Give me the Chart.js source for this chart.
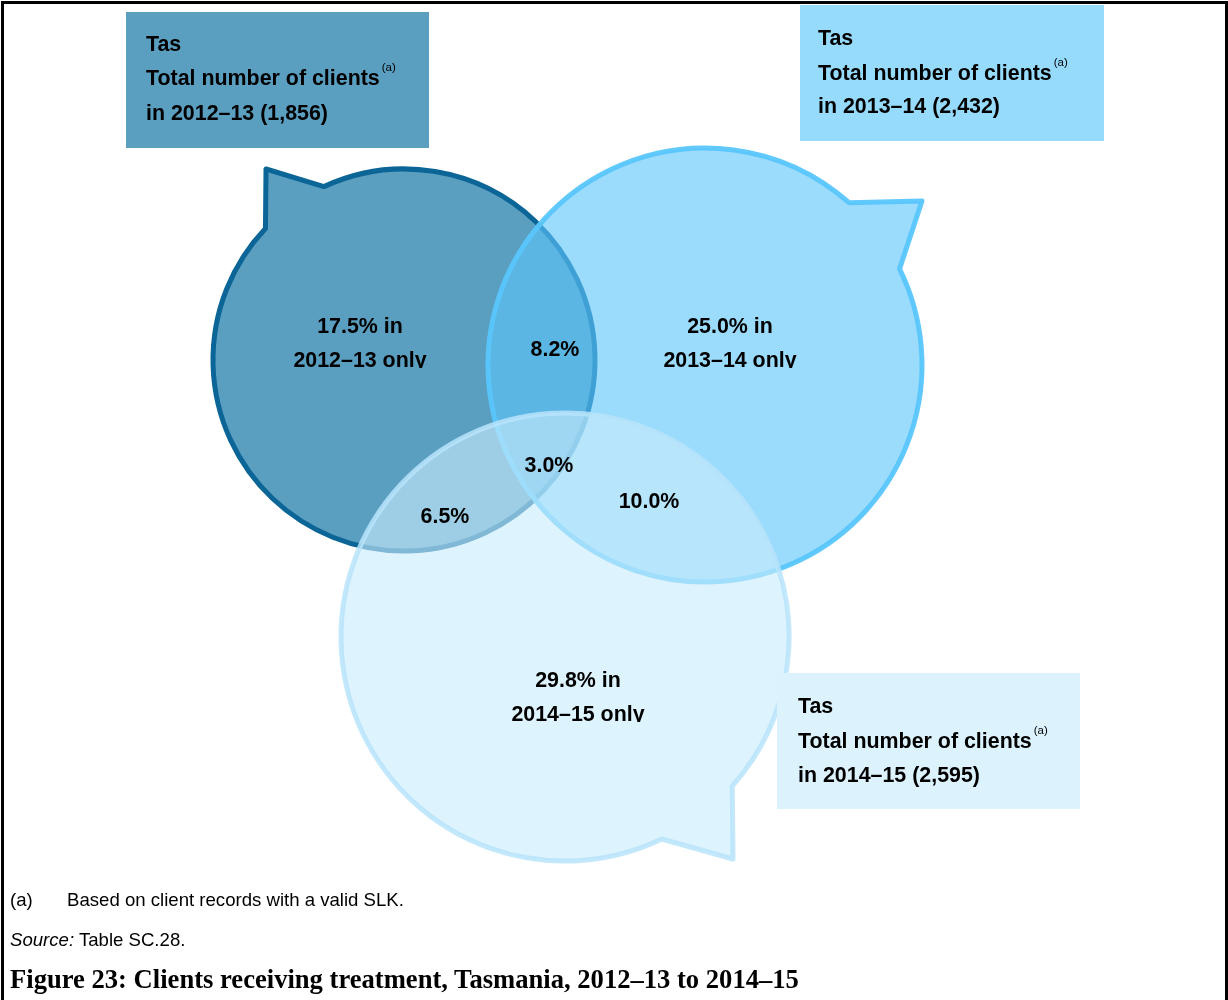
<!DOCTYPE html>
<html>
<head>
<meta charset="utf-8">
<title>Clients receiving treatment, Tasmania</title>
<script src="https://cdn.jsdelivr.net/npm/chart.js@4.4.1/dist/chart.umd.min.js"></script>
<style>
  body { margin: 0; background: #fff; }
  #wrap { position: relative; width: 1228px; height: 1000px; overflow: hidden; }
  #frame { position: absolute; left: 1px; top: 1px; width: 1227px; height: 1020px; border: 3px solid #000; box-sizing: border-box; }
  #venn { position: absolute; left: 0; top: 0; }
  .note { position: absolute; left: 10px; font: 18.6px/1 "Liberation Sans", Arial, sans-serif; color: #000; white-space: nowrap; }
  .note .tab { position: absolute; left: 57px; }
  .caption { position: absolute; left: 10px; top: 966px; font: bold 26.6px/1 "Liberation Serif", "Times New Roman", serif; color: #000; white-space: nowrap; }
</style>
</head>
<body>
<div id="wrap">
  <div id="frame"></div>
  <canvas id="venn" width="1228" height="1000"></canvas>
  <div class="note" style="top:891px">(a)<span class="tab">Based on client records with a valid SLK.</span></div>
  <div class="note" style="top:931px"><i>Source:</i> Table SC.28.</div>
  <div class="caption">Figure 23: Clients receiving treatment, Tasmania, 2012–13 to 2014–15</div>
</div>
<script>
  // Clients by year and the share seen in one, two or all three years
  const years = ["2012–13", "2013–14", "2014–15"];
  const totals = [1856, 2432, 2595];
  const onlyShares = [17.5, 25.0, 29.8];
  const overlapGroups = ["2012–13 + 2013–14", "2012–13 + 2014–15", "2013–14 + 2014–15", "all three years"];
  const overlapShares = [8.2, 6.5, 10.0, 3.0];

  // Layout, in chart units (x 0..1228, y 0..1000 from the top)
  const circleCentres = [[404, 360], [705, 365], [565, 637]];
  const circleRadii = [191, 217, 224];
  const tailAngles = [[-114.8, -136.5], [-48.4, -26.3], [41.7, 64.4]];
  const tailTips = [[266, 169], [922, 201], [733, 859]];
  const boxRects = [[126, 12, 303, 136], [800, 5, 304, 136], [777, 673, 303, 136]];
  const boxTextX = [146, 818, 798];
  const boxBaselines = [[51, 85, 120], [45, 80, 113], [713, 748, 782]];
  const onlyLabelPos = [[360, 333], [730, 333], [578, 687]];
  const overlapLabelPos = [[555, 356], [445, 523], [649, 508], [549, 472]];

  const circleFills = ["#5a9ec0", "rgba(93, 197, 250, 0.62)", "rgba(200, 235, 252, 0.62)"];
  const circleStrokes = ["#0c6597", "rgba(88, 198, 252, 0.95)", "rgba(185, 228, 252, 0.85)"];
  const boxFills = ["#5a9ec0", "#97dbfc", "#dcf2fd"];

  const boldFont = "bold 21.4px 'Liberation Sans', Arial, sans-serif";
  const supFont = "11.5px 'Liberation Sans', Arial, sans-serif";

  function toPx(chart, x, y) {
    return [chart.scales.x.getPixelForValue(x), chart.scales.y.getPixelForValue(y)];
  }

  function toLen(chart, r) {
    return Math.abs(chart.scales.x.getPixelForValue(r) - chart.scales.x.getPixelForValue(0));
  }

  // circle with a pointed tail between two angles on its rim
  function bubblePath(ctx, cx, cy, r, a, b, tip) {
    const ra = a * Math.PI / 180, rb = b * Math.PI / 180;
    let d = a - b;
    while (d > 180) d -= 360;
    while (d <= -180) d += 360;
    ctx.beginPath();
    ctx.moveTo(cx + r * Math.cos(ra), cy + r * Math.sin(ra));
    ctx.lineTo(tip[0], tip[1]);
    ctx.lineTo(cx + r * Math.cos(rb), cy + r * Math.sin(rb));
    ctx.arc(cx, cy, r, rb, ra, d > 0);
    ctx.closePath();
  }

  const vennPlugin = {
    id: "venn",
    beforeDatasetsDraw(chart) {
      const ctx = chart.ctx;
      ctx.save();
      ctx.lineWidth = 5;
      ctx.lineJoin = "round";
      years.forEach((yr, i) => {
        const [cx, cy] = toPx(chart, circleCentres[i][0], circleCentres[i][1]);
        const r = toLen(chart, circleRadii[i]);
        const tip = toPx(chart, tailTips[i][0], tailTips[i][1]);
        bubblePath(ctx, cx, cy, r, tailAngles[i][0], tailAngles[i][1], tip);
        ctx.fillStyle = circleFills[i];
        ctx.fill();
        ctx.strokeStyle = circleStrokes[i];
        ctx.stroke();
      });

      // year boxes with their totals
      years.forEach((yr, i) => {
        const [bx, by] = toPx(chart, boxRects[i][0], boxRects[i][1]);
        const [bx2, by2] = toPx(chart, boxRects[i][0] + boxRects[i][2], boxRects[i][1] + boxRects[i][3]);
        ctx.fillStyle = boxFills[i];
        ctx.fillRect(bx, by, bx2 - bx, by2 - by);

        const tx = chart.scales.x.getPixelForValue(boxTextX[i]);
        const ys = boxBaselines[i].map(v => chart.scales.y.getPixelForValue(v));
        ctx.fillStyle = "#000";
        ctx.textAlign = "left";
        ctx.textBaseline = "alphabetic";
        ctx.font = boldFont;
        ctx.fillText("Tas", tx, ys[0]);
        const line2 = "Total number of clients";
        ctx.fillText(line2, tx, ys[1]);
        const w = ctx.measureText(line2).width;
        ctx.fillText("in " + yr + " (" + totals[i].toLocaleString("en-US") + ")", tx, ys[2]);
        ctx.font = supFont;
        ctx.fillText("(a)", tx + w + 2, ys[1] - 14);
      });
      ctx.restore();
    },
    afterDatasetsDraw(chart) {
      const ctx = chart.ctx;
      ctx.save();
      ctx.fillStyle = "#000";
      ctx.font = boldFont;
      ctx.textAlign = "center";
      ctx.textBaseline = "alphabetic";

      // single-year shares, second line cut at the baseline
      chart.getDatasetMeta(0).data.forEach((pt, i) => {
        ctx.fillText(onlyShares[i].toFixed(1) + "% in", pt.x, pt.y);
        const y2 = pt.y + toLen(chart, 34);
        ctx.save();
        ctx.beginPath();
        ctx.rect(pt.x - 120, y2 - 30, 240, 31);
        ctx.clip();
        ctx.fillText(years[i] + " only", pt.x, y2);
        ctx.restore();
      });

      // shares seen in more than one year
      chart.getDatasetMeta(1).data.forEach((pt, i) => {
        ctx.fillText(overlapShares[i].toFixed(1) + "%", pt.x, pt.y);
      });
      ctx.restore();
    }
  };

  new Chart(document.getElementById("venn"), {
    type: "scatter",
    data: {
      datasets: [
        {
          label: "One year only",
          data: onlyLabelPos.map(p => ({ x: p[0], y: p[1] })),
          pointRadius: 0,
        },
        {
          label: "More than one year",
          data: overlapLabelPos.map(p => ({ x: p[0], y: p[1] })),
          pointRadius: 0,
        },
      ],
    },
    options: {
      responsive: false,
      animation: false,
      events: [],
      layout: { padding: 0 },
      plugins: {
        legend: { display: false },
        tooltip: { enabled: false },
      },
      scales: {
        x: { type: "linear", min: 0, max: 1228, display: false },
        y: { type: "linear", min: 0, max: 1000, reverse: true, display: false },
      },
    },
    plugins: [vennPlugin],
  });
</script>
</body>
</html>
